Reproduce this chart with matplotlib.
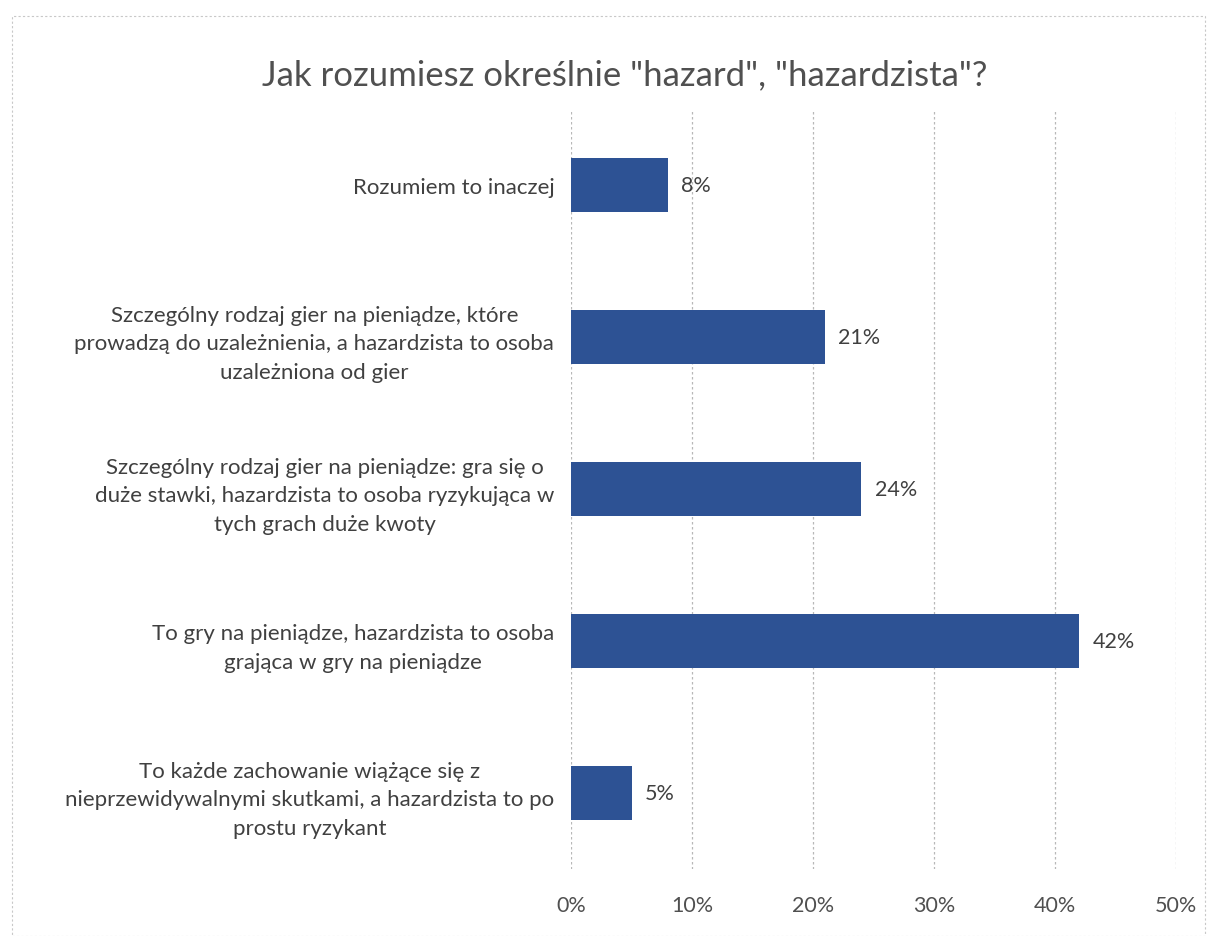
import matplotlib
matplotlib.use('Agg')
import matplotlib.pyplot as plt
import numpy as np
from matplotlib.patches import Rectangle

# Data (top to bottom)
categories = [
    'Rozumiem to inaczej',
    'Szczególny rodzaj gier na pieniądze, które\nprowadzą do uzależnienia, a hazardzista to osoba\nuzależniona od gier',
    'Szczególny rodzaj gier na pieniądze: gra się o\nduże stawki, hazardzista to osoba ryzykująca w\ntych grach duże kwoty',
    'To gry na pieniądze, hazardzista to osoba\ngrająca w gry na pieniądze',
    'To każde zachowanie wiążące się z\nnieprzewidywalnymi skutkami, a hazardzista to po\nprostu ryzykant',
]
values = [0.08, 0.21, 0.24, 0.42, 0.05]
x_ticks = [0, 0.1, 0.2, 0.3, 0.4, 0.5]
x_labels = ['0%', '10%', '20%', '30%', '40%', '50%']
title = 'Jak rozumiesz określnie "hazard", "hazardzista"?'

plt.rcParams['font.family'] = ['Lato', 'DejaVu Sans']

W, H = 1207, 937
fig = plt.figure(figsize=(W / 100, H / 100), dpi=100)
ax = fig.add_axes([571 / W, 1 - 870 / H, (1176 - 571) / W, (870 - 110) / H])

bar_color = '#2D5294'
text_color = '#404040'
pos = np.arange(len(categories))
ax.barh(pos, values, height=0.355, color=bar_color, zorder=3)

for p, v in zip(pos, values):
    ax.text(v + 0.011, p, f'{v * 100:.0f}%', va='center', ha='left',
            fontsize=15.5, color=text_color)

ax.set_ylim(len(categories) - 0.5, -0.5)
ax.set_xlim(0, 0.5)
ax.set_yticks(pos)
ax.set_yticklabels(categories, fontsize=16, color=text_color, linespacing=1.55)
for t in ax.get_yticklabels():
    t.set_multialignment('center')
ax.set_xticks(x_ticks)
ax.set_xticklabels(x_labels, fontsize=15.5, color='#505050')
ax.tick_params(axis='both', length=0)
ax.tick_params(axis='y', pad=12)
ax.tick_params(axis='x', pad=19)

ax.grid(axis='x', color='#B8B8B8', linestyle=(0, (2, 2)), linewidth=0.9, zorder=0)
for s in ax.spines.values():
    s.set_visible(False)

fig.text(625 / W, 1 - 75 / H, title, ha='center', va='center',
         fontsize=25, color='#505050')

# faint chart-area border
fig.patches.append(Rectangle((12 / W, 0.0), (W - 14) / W, 1 - 17 / H,
                             transform=fig.transFigure, fill=False,
                             edgecolor='#C8C8C8', linestyle=(0, (2, 2)),
                             linewidth=0.8))

plt.savefig('out.png', dpi=100)
